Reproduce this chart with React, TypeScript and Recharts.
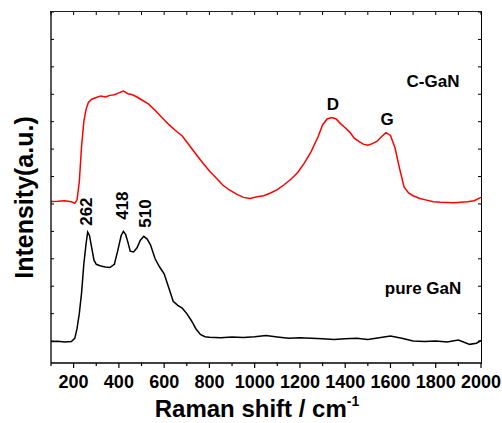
import React from 'react';
import { ComposedChart, Line, Scatter, XAxis, YAxis, ReferenceDot } from 'recharts';

// C-GaN spectrum (red, offset upward)
const cganShift = [100, 130, 160, 190, 205, 215, 225, 235, 245, 255, 265, 280, 300, 320, 340, 360, 380, 400, 420, 440, 460, 480, 500, 530, 560, 590, 620, 650, 680, 710, 740, 770, 800, 830, 860, 890, 920, 950, 980, 1010, 1040, 1070, 1100, 1130, 1160, 1190, 1220, 1250, 1280, 1300, 1320, 1340, 1360, 1380, 1400, 1420, 1440, 1460, 1480, 1500, 1520, 1540, 1560, 1580, 1600, 1620, 1640, 1660, 1680, 1700, 1730, 1760, 1790, 1820, 1850, 1880, 1910, 1940, 1970, 2000];
const cganIntensity = [5.09, 5.1, 5.12, 5.08, 5.02, 5.15, 5.8, 7.1, 8.0, 8.45, 8.7, 8.82, 8.88, 8.94, 8.9, 8.96, 8.98, 9.05, 9.12, 9.02, 8.98, 8.9, 8.8, 8.65, 8.42, 8.15, 7.9, 7.68, 7.48, 7.15, 6.82, 6.5, 6.2, 5.95, 5.68, 5.5, 5.36, 5.24, 5.2, 5.26, 5.3, 5.4, 5.52, 5.7, 5.9, 6.15, 6.5, 6.92, 7.45, 7.88, 8.1, 8.15, 8.1, 7.92, 7.78, 7.62, 7.4, 7.28, 7.18, 7.14, 7.2, 7.28, 7.45, 7.6, 7.5, 7.05, 6.3, 5.62, 5.4, 5.3, 5.2, 5.14, 5.08, 5.06, 5.05, 5.04, 5.06, 5.08, 5.12, 5.24];

// pure GaN spectrum (black)
const ganShift = [100, 130, 160, 190, 205, 215, 225, 235, 245, 255, 262, 270, 280, 290, 300, 320, 340, 360, 380, 395, 410, 420, 430, 440, 450, 465, 480, 495, 510, 525, 540, 560, 580, 600, 620, 640, 660, 680, 700, 720, 740, 760, 780, 800, 850, 900, 950, 1000, 1050, 1100, 1150, 1200, 1250, 1300, 1350, 1400, 1450, 1500, 1550, 1600, 1650, 1700, 1750, 1800, 1850, 1900, 1950, 1980, 2000];
const ganIntensity = [-0.02, -0.01, -0.03, -0.02, 0.1, 0.45, 1.0, 1.75, 2.8, 3.55, 3.97, 3.85, 3.4, 2.95, 2.8, 2.74, 2.7, 2.68, 2.8, 3.3, 3.85, 4.0, 3.88, 3.6, 3.28, 3.25, 3.4, 3.68, 3.82, 3.72, 3.5, 3.0, 2.7, 2.45, 1.95, 1.45, 1.3, 1.2, 1.0, 0.75, 0.45, 0.24, 0.16, 0.14, 0.12, 0.15, 0.13, 0.16, 0.2, 0.15, 0.1, 0.12, 0.1, 0.08, 0.06, 0.08, 0.1, 0.06, 0.12, 0.18, 0.1, 0.0, -0.02, 0.0, -0.03, 0.04, -0.12, -0.08, 0.02];

const xMajorTicks = [200, 400, 600, 800, 1000, 1200, 1400, 1600, 1800, 2000];
const xMinorTicks = [100, 300, 500, 700, 900, 1100, 1300, 1500, 1700, 1900];
const yTicks = [0, 1, 2, 3, 4, 5, 6, 7, 8, 9, 10, 11, 12];
const xDomain = [100, 2000];
const yDomain = [-0.8, 12];

// peak / curve annotations
const annTexts = ['262', '418', '510', 'D', 'G', 'C-GaN', 'pure GaN'];
const annX = [255, 414, 515, 1346, 1585, 1788, 1744];
const annY = [4.72, 4.94, 4.65, 8.64, 8.09, 9.48, 1.94];
const annRotated = [true, true, true, false, false, false, false];

const FONT = 'Liberation Sans, Arial, sans-serif';
const W = 502;
const H = 423;
const M = { top: 12, right: 21, left: 50, bottom: 30 };
const Y_AXIS_W = 1;
const X_AXIS_H = 30;

const cganData = cganShift.map((s, i) => ({ shift: s, value: cganIntensity[i] }));
const ganData = ganShift.map((s, i) => ({ shift: s, value: ganIntensity[i] }));
const allXTicks = [...xMinorTicks, ...xMajorTicks].sort((a, b) => a - b);

// inward tick marks along the top and right edges of the box
const topTickData = allXTicks.map((t) => ({ shift: t, value: yDomain[1] }));
const rightTickData = yTicks.map((t) => ({ shift: xDomain[1], value: t }));

const BottomTick = (props: any) => {
  const { x, y, payload } = props;
  const major = xMajorTicks.includes(payload.value);
  return (
    <g>
      <line x1={x} x2={x} y1={y} y2={y + (major ? 5 : 3)} stroke="#000" strokeWidth={1.2} />
      {major && (
        <text x={x} y={y + 25} textAnchor="middle" fontFamily={FONT} fontWeight="bold" fontSize={18} fill="#000">
          {payload.value}
        </text>
      )}
    </g>
  );
};

const LeftTick = (props: any) => {
  const { x, y } = props;
  return <line x1={x} x2={x + 3} y1={y} y2={y} stroke="#000" strokeWidth={1} />;
};

const TopTickMark = (props: any) => {
  const { cx, cy } = props;
  return <line x1={cx} x2={cx} y1={cy} y2={cy + 3} stroke="#000" strokeWidth={1} />;
};

const RightTickMark = (props: any) => {
  const { cx, cy } = props;
  return <line x1={cx} x2={cx - 3} y1={cy} y2={cy} stroke="#000" strokeWidth={1} />;
};

const XTitle = (props: any) => {
  const { viewBox } = props;
  const cx = viewBox.x + viewBox.width / 2 - 9;
  return (
    <text x={cx} y={viewBox.y + 54} textAnchor="middle" fontFamily={FONT} fontWeight="bold" fontSize={24} fill="#000">
      Raman shift / cm
      <tspan fontSize={14} dy={-11}>-1</tspan>
    </text>
  );
};

const YTitle = (props: any) => {
  const { viewBox } = props;
  const cx = 24;
  const cy = viewBox.y + viewBox.height / 2 + 10;
  return (
    <text
      x={cx}
      y={cy}
      transform={`rotate(-90, ${cx}, ${cy})`}
      textAnchor="middle"
      dy="0.35em"
      fontFamily={FONT}
      fontWeight="bold"
      fontSize={25}
      fill="#000"
    >
      Intensity(a.u.)
    </text>
  );
};

const AnnLabel = (props: any) => {
  const { viewBox, text, rotated } = props;
  const cx = viewBox.x + viewBox.width / 2;
  const cy = viewBox.y + viewBox.height / 2;
  return (
    <text
      x={cx}
      y={cy}
      dy="0.35em"
      textAnchor="middle"
      transform={rotated ? `rotate(-90, ${cx}, ${cy})` : undefined}
      fontFamily={FONT}
      fontWeight="bold"
      fontSize={17}
      fill="#000"
    >
      {text}
    </text>
  );
};

const App: React.FC = () => {
  const plotLeft = M.left + Y_AXIS_W;
  const plotW = W - plotLeft - M.right;
  const plotH = H - M.top - M.bottom - X_AXIS_H;
  return (
    <div style={{ position: 'absolute', left: 0, top: 0, width: W, height: H, background: '#fff' }}>
      <ComposedChart width={W} height={H} margin={M}>
        <XAxis
          dataKey="shift"
          type="number"
          domain={xDomain}
          ticks={allXTicks}
          interval={0}
          height={X_AXIS_H}
          tickSize={0}
          tickMargin={0}
          tickLine={false}
          tick={BottomTick}
          axisLine={{ stroke: '#000', strokeWidth: 1.3 }}
          label={<XTitle />}
        />
        <YAxis
          dataKey="value"
          type="number"
          domain={yDomain}
          ticks={yTicks}
          interval={0}
          width={Y_AXIS_W}
          tickSize={0}
          tickMargin={0}
          tickLine={false}
          tick={LeftTick}
          axisLine={{ stroke: '#000', strokeWidth: 1.3 }}
          label={<YTitle />}
        />
        <Scatter data={topTickData} dataKey="value" shape={TopTickMark} isAnimationActive={false} />
        <Scatter data={rightTickData} dataKey="value" shape={RightTickMark} isAnimationActive={false} />
        <Line
          data={cganData}
          dataKey="value"
          type="linear"
          stroke="#ff0000"
          strokeWidth={1.5}
          dot={false}
          isAnimationActive={false}
        />
        <Line
          data={ganData}
          dataKey="value"
          type="linear"
          stroke="#000"
          strokeWidth={1.5}
          dot={false}
          isAnimationActive={false}
        />
        {annTexts.map((t, i) => (
          <ReferenceDot
            key={t}
            x={annX[i]}
            y={annY[i]}
            r={0}
            fill="none"
            stroke="none"
            label={<AnnLabel text={t} rotated={annRotated[i]} />}
          />
        ))}
      </ComposedChart>
      {/* top and right edges of the box frame */}
      <div
        style={{
          position: 'absolute',
          left: plotLeft - 0.6,
          top: M.top - 0.6,
          width: plotW + 1.2,
          height: plotH + 1.2,
          borderTop: '1.3px solid #222',
          borderRight: '1.3px solid #000',
          boxSizing: 'border-box',
          pointerEvents: 'none',
        }}
      />
    </div>
  );
};

export default App;
